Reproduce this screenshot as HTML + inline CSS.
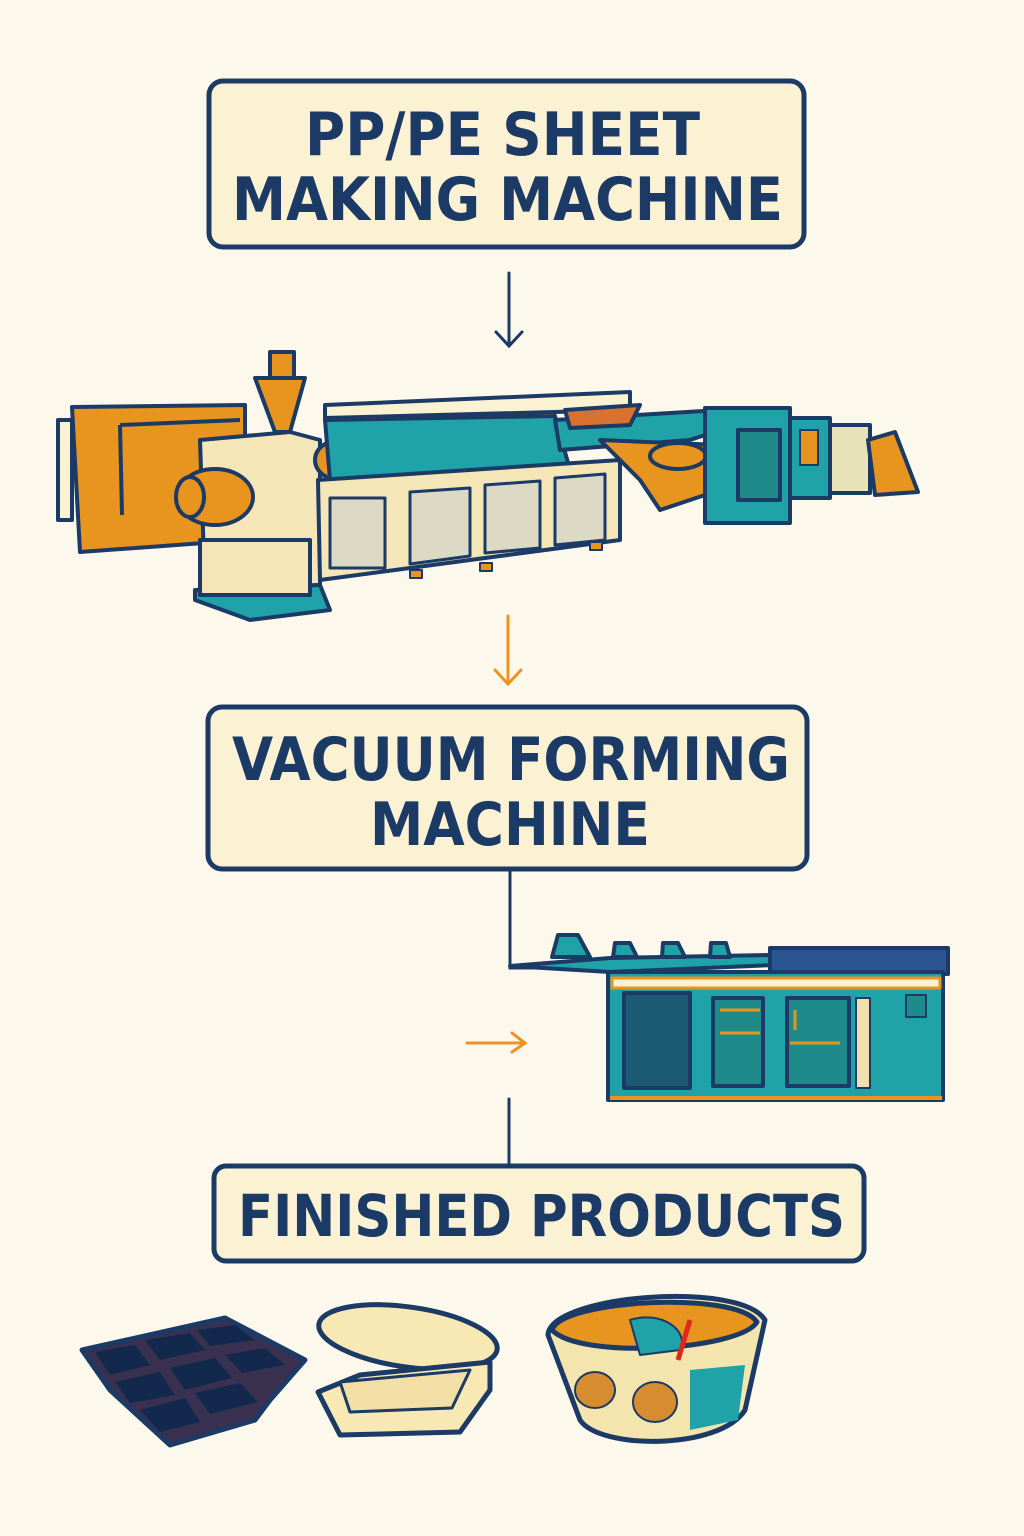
<!DOCTYPE html>
<html><head><meta charset="utf-8"><style>
html,body{margin:0;padding:0;background:#fcf9ec;}
svg{display:block}
text{font-family:"DejaVu Sans","Liberation Sans",sans-serif;font-weight:bold;fill:#1b3a66;text-anchor:start}
</style></head><body>
<svg width="1024" height="1536" viewBox="0 0 1024 1536" xmlns="http://www.w3.org/2000/svg">
<rect width="1024" height="1536" fill="#fcf9ec"/>
<g stroke="#1b3a66" stroke-width="5" stroke-linejoin="round" stroke-linecap="round">
<rect x="209" y="81" width="595" height="166" rx="14" fill="#fbf2d4"/>
<rect x="208" y="707" width="599" height="162" rx="14" fill="#fbf2d4"/>
<rect x="214" y="1166" width="650" height="95" rx="12" fill="#fbf2d4"/>
</g>
<text x="305" y="155" font-size="60" textLength="395" lengthAdjust="spacingAndGlyphs">PP/PE SHEET</text>
<text x="232" y="220" font-size="60" textLength="551" lengthAdjust="spacingAndGlyphs">MAKING MACHINE</text>
<text x="232" y="780" font-size="60" textLength="558" lengthAdjust="spacingAndGlyphs">VACUUM FORMING</text>
<text x="370" y="845" font-size="60" textLength="280" lengthAdjust="spacingAndGlyphs">MACHINE</text>
<text x="238" y="1236" font-size="58" textLength="607" lengthAdjust="spacingAndGlyphs">FINISHED PRODUCTS</text>

<g fill="none" stroke-width="3" stroke-linecap="round">
<path d="M509 273 V345 M496 332 L509 346 L522 332" stroke="#1b3a66"/>
<path d="M508 616 V683 M495 670 L508 684 L521 670" stroke="#ee9322"/>
<path d="M510 871 V968 H600" stroke="#1b3a66"/>
<path d="M467 1043 H524 M512 1033 L525 1043 L512 1052" stroke="#ee9322"/>
<path d="M509 1099 V1164" stroke="#1b3a66"/>
</g>

<!-- Machine 1 -->
<g stroke="#1b3a66" stroke-width="4" stroke-linejoin="round">
<rect x="58" y="420" width="14" height="100" fill="#fbf2d4"/>
<path d="M72 407 L245 405 L245 540 L80 552 Z" fill="#e8951f"/>
<path d="M120 425 L240 420" fill="none"/>
<path d="M120 425 L122 515" fill="none"/>
<path d="M200 440 L290 432 L320 440 L320 585 L205 590 Z" fill="#f5e6b8"/>
<path d="M195 590 L320 585 L330 610 L250 620 L195 600 Z" fill="#1fa3a8"/>
<rect x="200" y="540" width="110" height="55" fill="#f5e6b8"/>
<path d="M255 378 L305 378 L290 432 L275 432 Z" fill="#e8951f"/>
<rect x="270" y="352" width="24" height="26" fill="#e8951f"/>
<ellipse cx="215" cy="497" rx="38" ry="28" fill="#e8951f"/>
<ellipse cx="190" cy="497" rx="14" ry="20" fill="#e8951f"/>
<ellipse cx="340" cy="460" rx="25" ry="20" fill="#e8951f"/>
<path d="M325 405 L630 392 L630 410 L325 418 Z" fill="#fbf2d4"/>
<path d="M325 420 L555 416 L570 470 L420 486 L330 480 Z" fill="#1fa3a8"/>
<path d="M318 480 L620 460 L620 540 L320 580 Z" fill="#f5e6b8"/>
<rect x="330" y="498" width="55" height="70" fill="#dcd9c4" stroke-width="3"/>
<path d="M410 492 L470 488 L470 556 L410 564 Z" fill="#dcd9c4" stroke-width="3"/>
<path d="M485 485 L540 481 L540 548 L485 553 Z" fill="#dcd9c4" stroke-width="3"/>
<path d="M555 478 L605 474 L605 540 L555 545 Z" fill="#dcd9c4" stroke-width="3"/>
<path d="M555 420 L720 410 L720 430 L690 440 L560 450 Z" fill="#1fa3a8"/>
<path d="M565 410 L640 405 L630 425 L570 428 Z" fill="#d9712f"/>
<path d="M600 440 L720 445 L720 490 L660 510 L640 480 Z" fill="#e8951f"/>
<ellipse cx="678" cy="456" rx="28" ry="13" fill="#e8951f"/>
<rect x="705" y="408" width="85" height="115" fill="#1fa3a8"/>
<rect x="738" y="430" width="42" height="70" fill="#1e8a8a"/>
<rect x="790" y="418" width="40" height="80" fill="#1fa3a8"/>
<rect x="800" y="430" width="18" height="35" fill="#e8951f" stroke-width="2"/>
<rect x="830" y="425" width="40" height="68" fill="#e8e2b8"/>
<path d="M868 440 L895 432 L918 492 L875 495 Z" fill="#e8951f"/>
<rect x="410" y="570" width="12" height="8" fill="#e8951f" stroke-width="2"/>
<rect x="480" y="563" width="12" height="8" fill="#e8951f" stroke-width="2"/>
<rect x="590" y="542" width="12" height="8" fill="#e8951f" stroke-width="2"/>
</g>

<!-- Machine 2 -->
<g stroke="#1b3a66" stroke-width="4" stroke-linejoin="round">
<path d="M510 966 L610 958 L770 955 L775 965 L610 972 Z" fill="#1fa3a8"/>
<path d="M552 957 L558 935 L578 935 L590 957 Z" fill="#1fa3a8"/>
<path d="M613 957 L615 943 L630 943 L637 957 Z" fill="#1fa3a8"/>
<path d="M662 957 L663 943 L678 943 L685 957 Z" fill="#1fa3a8"/>
<path d="M710 957 L711 943 L726 943 L730 957 Z" fill="#1fa3a8"/>
<rect x="770" y="948" width="178" height="26" fill="#2a5590"/>
<rect x="608" y="972" width="335" height="128" fill="#1fa3a8"/>
<rect x="612" y="978" width="328" height="10" fill="#fbf2d4" stroke="#e8951f" stroke-width="3"/>
<rect x="624" y="993" width="66" height="95" fill="#1b5a72"/>
<rect x="713" y="998" width="50" height="88" fill="#1e8a8a"/>
<rect x="787" y="998" width="62" height="88" fill="#1e8a8a"/>
<rect x="856" y="998" width="14" height="90" fill="#f2dfae" stroke-width="2"/>
<rect x="906" y="995" width="20" height="22" fill="#1e8a8a" stroke-width="2"/>
<path d="M610 1098 H942" stroke="#e8951f"/>
</g>
<g stroke="#e8951f" stroke-width="3">
<path d="M720 1010 H760 M720 1033 H760 M795 1010 V1030 M790 1043 H840"/>
</g>

<!-- Products -->
<g stroke="#1b3a66" stroke-width="5" stroke-linejoin="round">
<path d="M82 1350 L225 1318 L305 1360 L270 1400 L255 1420 L170 1445 L110 1390 Z" fill="#3a3050"/>
<g fill="#13284d" stroke="none">
<path d="M95 1352 L135 1345 L150 1365 L110 1375 Z"/>
<path d="M145 1340 L190 1333 L205 1350 L160 1360 Z"/>
<path d="M197 1330 L235 1325 L255 1340 L210 1346 Z"/>
<path d="M115 1382 L160 1372 L175 1395 L130 1403 Z"/>
<path d="M170 1368 L215 1358 L232 1378 L185 1390 Z"/>
<path d="M225 1355 L265 1348 L285 1365 L242 1373 Z"/>
<path d="M140 1410 L185 1398 L200 1422 L160 1432 Z"/>
<path d="M195 1393 L240 1383 L258 1402 L210 1414 Z"/>
</g>
<ellipse cx="408" cy="1337" rx="90" ry="30" transform="rotate(8 408 1337)" fill="#f8e8b4"/>
<path d="M318 1392 L360 1375 L490 1362 L490 1390 L460 1432 L340 1435 Z" fill="#f8e8b4"/>
<path d="M340 1382 L470 1370 L452 1408 L350 1412 Z" fill="#f3dfa5" stroke-width="3"/>
<path d="M548 1335 C550 1295 740 1280 765 1320 L745 1410 C720 1450 600 1450 580 1420 Z" fill="#f4e4ad"/>
<path d="M552 1330 C560 1300 735 1290 757 1322 C740 1350 580 1360 552 1330 Z" fill="#e8951f"/>
<path d="M630 1320 C660 1310 690 1330 680 1350 L640 1355 Z" fill="#1fa3a8" stroke-width="2"/>
<path d="M690 1320 L678 1360" stroke="#e0281e" stroke-width="5"/>
<path d="M690 1370 L745 1365 L738 1420 L690 1430 Z" fill="#1fa3a8" stroke="none"/>
<ellipse cx="595" cy="1390" rx="20" ry="18" fill="#d88c30" stroke-width="2"/>
<ellipse cx="655" cy="1402" rx="22" ry="20" fill="#d88c30" stroke-width="2"/>
</g>
</svg>
</body></html>
